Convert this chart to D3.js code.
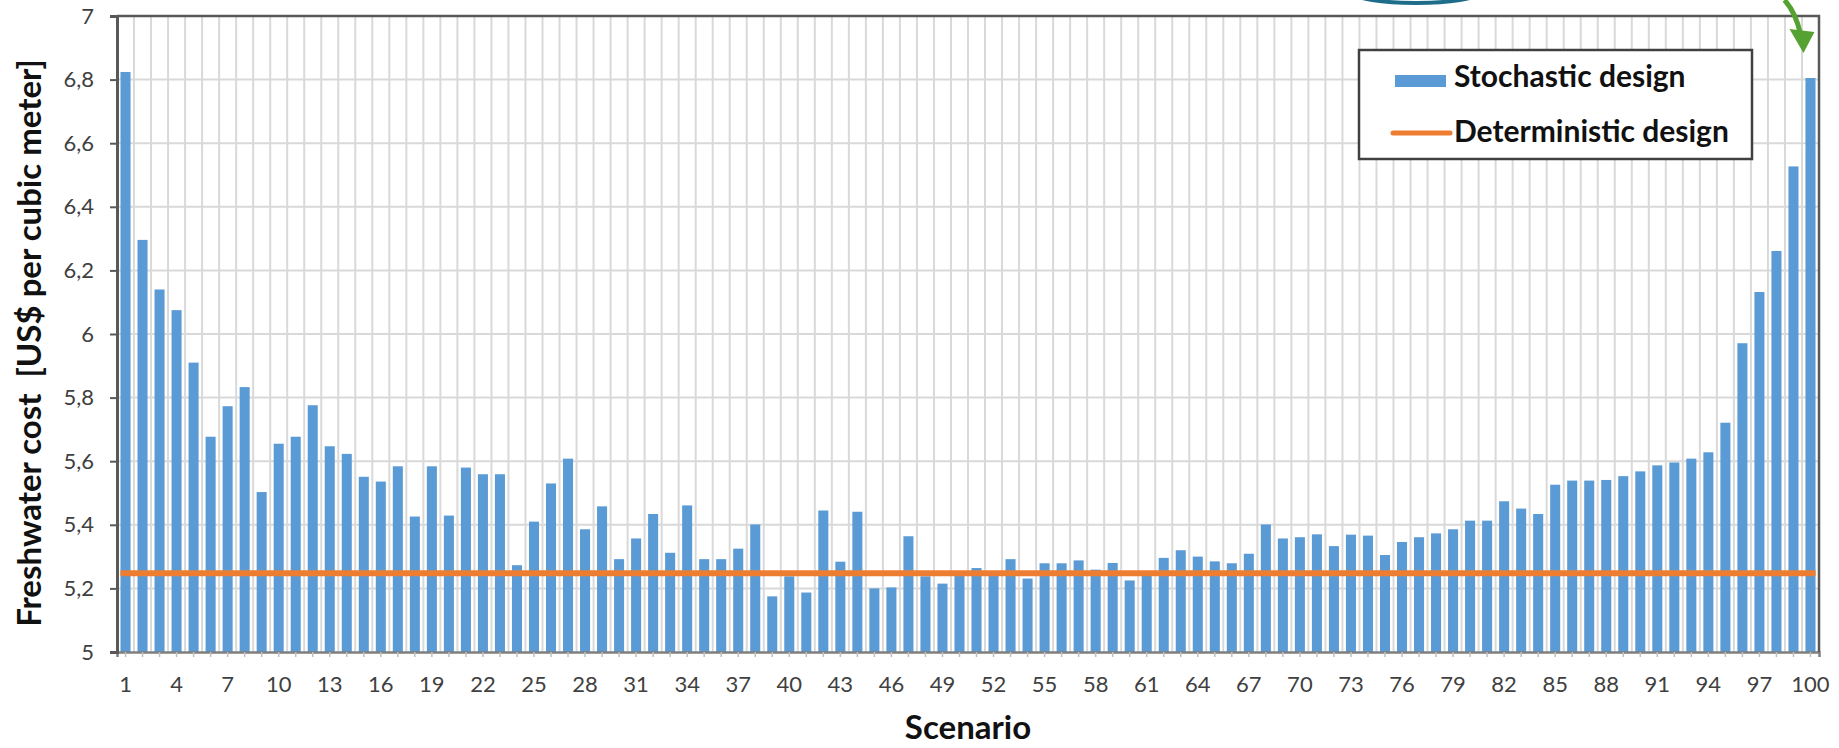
<!DOCTYPE html>
<html>
<head>
<meta charset="utf-8">
<script src="https://cdn.jsdelivr.net/npm/d3@7"></script>
<style>
    body { margin: 0; background: #fff; }
    #chart-area { width: 1839px; height: 748px; }
    text { font-family: Lato, "Open Sans", sans-serif; }
</style>
</head>
<body>
<div id="chart-area"></div>
<script>

// scenario numbers on the x axis
let scenarios = d3.range(1, 101);

// freshwater cost per scenario (stochastic design)
let stochasticCost = [
    6.824, 6.296, 6.140, 6.075, 5.910, 5.677, 5.773, 5.833, 5.503, 5.655,
    5.677, 5.776, 5.647, 5.623, 5.551, 5.536, 5.584, 5.426, 5.584, 5.429,
    5.580, 5.559, 5.559, 5.273, 5.410, 5.530, 5.608, 5.386, 5.458, 5.292,
    5.357, 5.434, 5.312, 5.461, 5.292, 5.292, 5.325, 5.401, 5.175, 5.238,
    5.187, 5.445, 5.284, 5.441, 5.200, 5.203, 5.364, 5.238, 5.215, 5.244,
    5.264, 5.246, 5.292, 5.231, 5.279, 5.279, 5.288, 5.259, 5.280, 5.225,
    5.244, 5.296, 5.320, 5.300, 5.285, 5.279, 5.309, 5.401, 5.357, 5.361,
    5.370, 5.333, 5.369, 5.366, 5.305, 5.346, 5.361, 5.373, 5.386, 5.413,
    5.413, 5.474, 5.451, 5.434, 5.526, 5.539, 5.539, 5.541, 5.553, 5.568,
    5.587, 5.596, 5.608, 5.628, 5.721, 5.971, 6.132, 6.261, 6.527, 6.805
];

// deterministic design cost (same for every scenario)
let deterministicCost = 5.248;

// axis ticks
let yTicks = [5, 5.2, 5.4, 5.6, 5.8, 6, 6.2, 6.4, 6.6, 6.8, 7];
let xTickLabels = [1, 4, 7, 10, 13, 16, 19, 22, 25, 28, 31, 34, 37, 40, 43, 46, 49, 52,
    55, 58, 61, 64, 67, 70, 73, 76, 79, 82, 85, 88, 91, 94, 97, 100];

let legendLabels = ["Stochastic design", "Deterministic design"];

let vis = {};

vis.margin = {top: 16, right: 20, bottom: 96, left: 117};
vis.width = 1839 - vis.margin.left - vis.margin.right;
vis.height = 748 - vis.margin.top - vis.margin.bottom;

vis.svg = d3.select("#chart-area").append("svg")
    .attr("width", 1839)
    .attr("height", 748);

vis.g = vis.svg.append("g")
    .attr("transform", `translate(${vis.margin.left}, ${vis.margin.top})`);

// scales
vis.x = d3.scaleBand()
    .domain(scenarios)
    .range([0, vis.width])
    .paddingInner(0.41)
    .paddingOuter(0.205);

vis.y = d3.scaleLinear()
    .domain([5, 7])
    .range([vis.height, 0]);

let step = vis.x.step();
let center = d => vis.x(d) + vis.x.bandwidth() / 2;

// horizontal grid
vis.g.append("g").attr("class", "grid-h")
    .selectAll("line")
    .data(yTicks.filter(d => d > 5 && d < 7))
    .enter().append("line")
    .attr("x1", 0)
    .attr("x2", vis.width)
    .attr("y1", d => vis.y(d))
    .attr("y2", d => vis.y(d))
    .attr("stroke", "#d9d9d9")
    .attr("stroke-width", 2);

// vertical grid, between the categories
vis.g.append("g").attr("class", "grid-v")
    .selectAll("line")
    .data(scenarios.slice(1))
    .enter().append("line")
    .attr("x1", d => center(d) - step / 2)
    .attr("x2", d => center(d) - step / 2)
    .attr("y1", 0)
    .attr("y2", vis.height)
    .attr("stroke", "#d9d9d9")
    .attr("stroke-width", 2);

// bars
vis.g.append("g").attr("class", "bars")
    .selectAll("rect")
    .data(scenarios)
    .enter().append("rect")
    .attr("x", d => vis.x(d))
    .attr("width", vis.x.bandwidth())
    .attr("y", (d, i) => vis.y(stochasticCost[i]))
    .attr("height", (d, i) => vis.height - vis.y(stochasticCost[i]))
    .attr("fill", "#5b9bd5");

// deterministic line
vis.g.append("line")
    .attr("x1", vis.x(scenarios[0]))
    .attr("x2", vis.x(scenarios[scenarios.length - 1]) + vis.x.bandwidth())
    .attr("y1", vis.y(deterministicCost))
    .attr("y2", vis.y(deterministicCost))
    .attr("stroke", "#ed7d31")
    .attr("stroke-width", 6);

// x axis
vis.xAxis = d3.axisBottom(vis.x)
    .tickValues(scenarios)
    .tickSize(5)
    .tickFormat(d => xTickLabels.includes(d) ? d : "");

vis.xAxisGroup = vis.g.append("g")
    .attr("class", "axis x-axis")
    .attr("transform", `translate(0, ${vis.height})`)
    .call(vis.xAxis);

vis.xAxisGroup.select(".domain").attr("stroke", "#7f7f7f").attr("stroke-width", 2.5);
vis.xAxisGroup.selectAll(".tick line").attr("stroke", "#bfbfbf").attr("stroke-width", 1.5);
vis.xAxisGroup.selectAll(".tick text")
    .attr("y", 40)
    .attr("dy", 0)
    .attr("fill", "#404040")
    .style("font-size", "22px");

// y axis
vis.yAxis = d3.axisLeft(vis.y)
    .tickValues(yTicks)
    .tickSize(7)
    .tickPadding(16)
    .tickFormat(d => String(+d.toFixed(1)).replace(".", ","));

vis.yAxisGroup = vis.g.append("g")
    .attr("class", "axis y-axis")
    .call(vis.yAxis);

vis.yAxisGroup.select(".domain").attr("stroke", "#595959").attr("stroke-width", 3);
vis.yAxisGroup.selectAll(".tick line").attr("stroke", "#595959").attr("stroke-width", 2);
vis.yAxisGroup.selectAll(".tick text")
    .attr("fill", "#404040")
    .style("font-size", "22px");

// top and right border of plot area
vis.g.append("path")
    .attr("d", `M0,0H${vis.width}V${vis.height}`)
    .attr("fill", "none")
    .attr("stroke", "#595959")
    .attr("stroke-width", 2.5);

// axis titles
vis.svg.append("text")
    .attr("x", vis.margin.left + vis.width / 2)
    .attr("y", 739)
    .attr("text-anchor", "middle")
    .style("font-size", "33px")
    .style("font-weight", "bold")
    .attr("fill", "#111")
    .text("Scenario");

vis.svg.append("text")
    .attr("transform", "translate(41, 343) rotate(-90)")
    .attr("text-anchor", "middle")
    .style("font-size", "33px")
    .style("font-weight", "bold")
    .style("white-space", "pre")
    .attr("fill", "#111")
    .text("Freshwater cost  [US$ per cubic meter]");

// legend
vis.legend = vis.svg.append("g")
    .attr("class", "legend")
    .attr("transform", "translate(1359, 50)");

vis.legend.append("rect")
    .attr("width", 393)
    .attr("height", 109)
    .attr("fill", "#fff")
    .attr("stroke", "#404040")
    .attr("stroke-width", 2.5);

vis.legend.append("rect")
    .attr("x", 36)
    .attr("y", 25)
    .attr("width", 51)
    .attr("height", 12)
    .attr("fill", "#5b9bd5");

vis.legend.append("line")
    .attr("x1", 34)
    .attr("x2", 91)
    .attr("y1", 83)
    .attr("y2", 83)
    .attr("stroke", "#ed7d31")
    .attr("stroke-width", 5)
    .attr("stroke-linecap", "round");

vis.legend.selectAll(".legend-label")
    .data(legendLabels)
    .enter().append("text")
    .attr("class", "legend-label")
    .attr("x", 95)
    .attr("y", (d, i) => 37 + i * 55)
    .style("font-size", "30px")
    .style("font-weight", "bold")
    .attr("fill", "#111")
    .text(d => d);

// annotations that are cut off at the top of the figure
let lastX = vis.margin.left + center(scenarios[scenarios.length - 1]);
let topY = vis.margin.top + vis.y(stochasticCost[stochasticCost.length - 1]);

vis.svg.append("path")
    .attr("d", `M${lastX - 26},0 Q${lastX - 15},12 ${lastX - 10},${topY - 44}`)
    .attr("fill", "none")
    .attr("stroke", "#55a233")
    .attr("stroke-width", 5);

vis.svg.append("path")
    .attr("d", `M${lastX - 21},${topY - 49} L${lastX + 4},${topY - 46} L${lastX - 7},${topY - 25} Z`)
    .attr("fill", "#55a233");

vis.svg.append("ellipse")
    .attr("cx", 1416)
    .attr("cy", -7)
    .attr("rx", 62)
    .attr("ry", 10)
    .attr("fill", "none")
    .attr("stroke", "#1d6c8a")
    .attr("stroke-width", 4);

</script>
</body>
</html>
